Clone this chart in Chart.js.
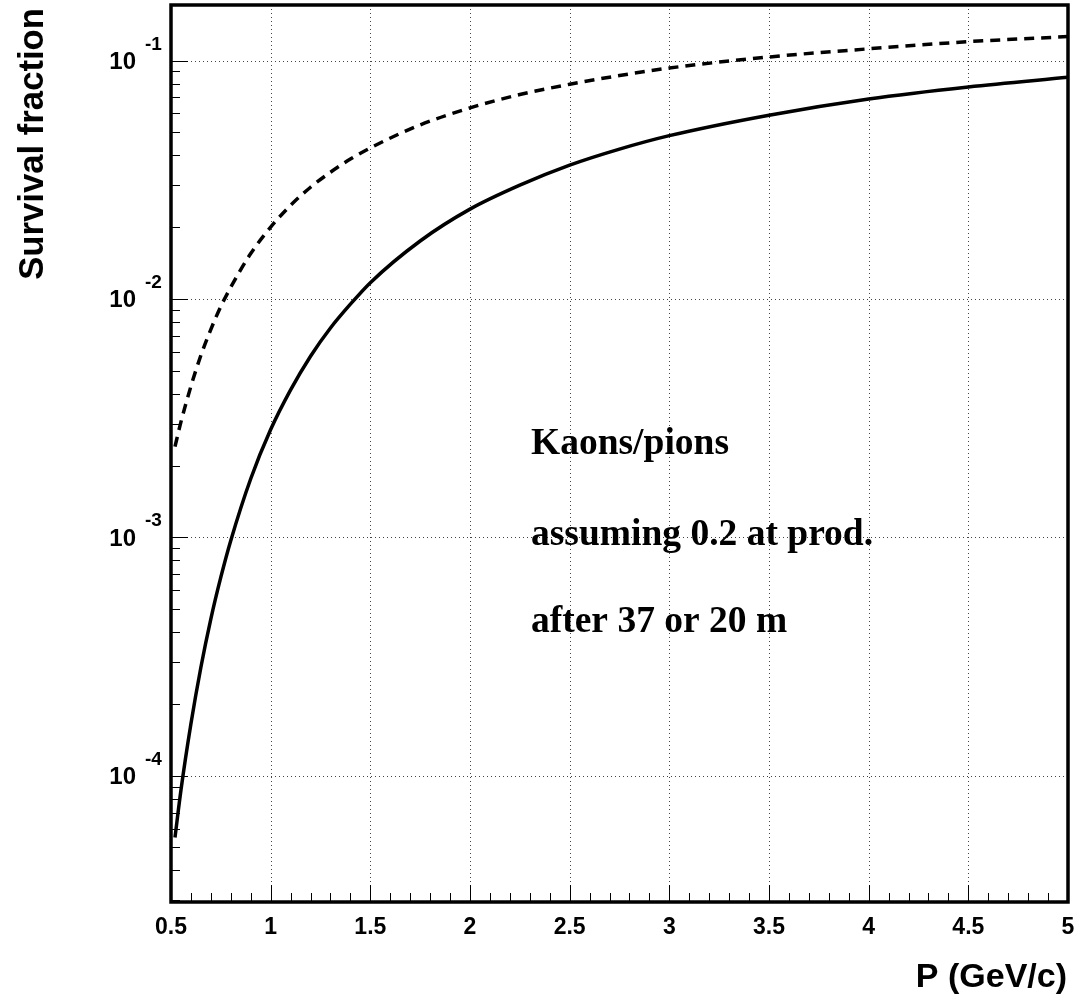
<!DOCTYPE html>
<html>
<head>
<meta charset="utf-8">
<script src="https://cdn.jsdelivr.net/npm/chart.js@4/dist/chart.umd.min.js"></script>
<style>
  body { margin: 0; background: #fff; }
  canvas { display: block; }
</style>
</head>
<body>
<canvas id="myChart" width="1079" height="1002"></canvas>
<script>
// momentum points (GeV/c)
var momentum = [0.52, 0.55, 0.6, 0.65, 0.7, 0.75, 0.8, 0.9, 1.0, 1.1, 1.2, 1.3, 1.4, 1.5,
  1.75, 2.0, 2.25, 2.5, 2.75, 3.0, 3.5, 4.0, 4.5, 5.0];

// after 37 m (solid)
var survival37 = [5.5e-5, 8.7e-5, 1.65e-4, 2.85e-4, 4.55e-4, 6.8e-4, 9.7e-4, 1.76e-3, 2.83e-3,
  4.15e-3, 5.75e-3, 7.55e-3, 9.5e-3, 1.17e-2, 1.75e-2, 2.38e-2, 3.0e-2, 3.64e-2, 4.25e-2,
  4.84e-2, 5.9e-2, 6.9e-2, 7.75e-2, 8.5e-2];

// after 20 m (dashed)
var survival20 = [2.4e-3, 3.05e-3, 4.3e-3, 5.8e-3, 7.45e-3, 9.3e-3, 1.12e-2, 1.55e-2, 2.0e-2,
  2.47e-2, 2.94e-2, 3.4e-2, 3.86e-2, 4.3e-2, 5.37e-2, 6.33e-2, 7.2e-2, 7.95e-2, 8.65e-2,
  9.3e-2, 1.035e-1, 1.12e-1, 1.2e-1, 1.26e-1];

var xTicks = [0.5, 1, 1.5, 2, 2.5, 3, 3.5, 4, 4.5, 5];
var xTickLabels = ["0.5", "1", "1.5", "2", "2.5", "3", "3.5", "4", "4.5", "5"];
var yDecades = [-4, -3, -2, -1];

var notes = ["Kaons/pions", "assuming 0.2 at prod.", "after 37 or 20 m"];

function toPoints(xs, ys) {
  var pts = [];
  for (var i = 0; i < xs.length; i++) {
    pts.push({ x: xs[i], y: ys[i] });
  }
  return pts;
}

var rootFrame = {
  id: "rootFrame",
  beforeDatasetsDraw: function(chart) {
    var ctx = chart.ctx;
    var xs = chart.scales.x, ys = chart.scales.y;
    var a = chart.chartArea;
    ctx.save();
    // dotted grid
    ctx.strokeStyle = "#444";
    ctx.lineWidth = 1;
    ctx.setLineDash([1, 3]);
    for (var i = 1; i < xTicks.length - 1; i++) {
      var px = Math.round(xs.getPixelForValue(xTicks[i])) + 0.5;
      ctx.beginPath(); ctx.moveTo(px, a.top); ctx.lineTo(px, a.bottom); ctx.stroke();
    }
    for (var j = 0; j < yDecades.length; j++) {
      var py = Math.round(ys.getPixelForValue(Math.pow(10, yDecades[j]))) + 0.5;
      ctx.beginPath(); ctx.moveTo(a.left, py); ctx.lineTo(a.right, py); ctx.stroke();
    }
    ctx.restore();
  },
  afterDraw: function(chart) {
    var ctx = chart.ctx;
    var xs = chart.scales.x, ys = chart.scales.y;
    var a = chart.chartArea;
    ctx.save();
    ctx.strokeStyle = "#000";
    ctx.lineWidth = 1;
    ctx.setLineDash([]);

    // x ticks every 0.1, major every 0.5
    for (var k = 5; k <= 50; k++) {
      var v = k / 10;
      var px = Math.round(xs.getPixelForValue(v)) + 0.5;
      var len = (k % 5 === 0) ? 17 : 9;
      ctx.beginPath(); ctx.moveTo(px, a.bottom); ctx.lineTo(px, a.bottom - len); ctx.stroke();
    }
    // y ticks, log
    for (var d = -5; d <= -1; d++) {
      for (var m = 1; m <= 9; m++) {
        var val = m * Math.pow(10, d);
        if (val < ys.min || val > ys.max) continue;
        var py = Math.round(ys.getPixelForValue(val)) + 0.5;
        var l = (m === 1) ? 17 : 9;
        ctx.beginPath(); ctx.moveTo(a.left, py); ctx.lineTo(a.left + l, py); ctx.stroke();
      }
    }

    // frame
    ctx.lineWidth = 3.5;
    ctx.strokeRect(a.left, a.top, a.right - a.left, a.bottom - a.top);

    // x tick labels
    ctx.fillStyle = "#000";
    ctx.font = "bold 23px 'Liberation Sans', Arial, sans-serif";
    ctx.textAlign = "center";
    ctx.textBaseline = "alphabetic";
    for (var i = 0; i < xTicks.length; i++) {
      ctx.fillText(xTickLabels[i], xs.getPixelForValue(xTicks[i]), 934);
    }

    // y tick labels 10^n
    for (var j = 0; j < yDecades.length; j++) {
      var y = ys.getPixelForValue(Math.pow(10, yDecades[j]));
      ctx.font = "bold 24px 'Liberation Sans', Arial, sans-serif";
      ctx.textAlign = "right";
      ctx.fillText("10", 136, y + 8.5);
      ctx.font = "bold 19px 'Liberation Sans', Arial, sans-serif";
      ctx.textAlign = "left";
      ctx.fillText("-" + (-yDecades[j]), 145, y - 11);
    }

    // axis titles
    ctx.font = "bold 34px 'Liberation Sans', Arial, sans-serif";
    ctx.textAlign = "right";
    ctx.fillText("P (GeV/c)", 1067, 987);

    ctx.save();
    ctx.font = "bold 34.7px 'Liberation Sans', Arial, sans-serif";
    ctx.translate(43, 8);
    ctx.rotate(-Math.PI / 2);
    ctx.textAlign = "right";
    ctx.fillText("Survival fraction", 0, 0);
    ctx.restore();

    // notes
    ctx.font = "bold 37.5px 'Liberation Serif', 'Times New Roman', serif";
    ctx.textAlign = "left";
    ctx.fillText(notes[0], 531, 454);
    ctx.fillText(notes[1], 531, 545);
    ctx.fillText(notes[2], 531, 632);

    ctx.restore();
  }
};

var ctx = document.getElementById("myChart");

var chart = new Chart(ctx, {
  type: "line",
  data: {
    datasets: [
      {
        label: "37 m",
        data: toPoints(momentum, survival37),
        borderColor: "#000",
        borderWidth: 3.5,
        pointRadius: 0,
        fill: false,
        cubicInterpolationMode: "monotone"
      },
      {
        label: "20 m",
        data: toPoints(momentum, survival20),
        borderColor: "#000",
        borderWidth: 3.5,
        borderDash: [10, 7],
        pointRadius: 0,
        fill: false,
        cubicInterpolationMode: "monotone"
      }
    ]
  },
  options: {
    responsive: false,
    animation: false,
    layout: { padding: { left: 171, right: 11, top: 5, bottom: 100 } },
    plugins: {
      legend: { display: false },
      tooltip: { enabled: false }
    },
    scales: {
      x: { type: "linear", min: 0.5, max: 5, display: false },
      y: { type: "logarithmic", min: 2.95e-5, max: 0.171, display: false }
    }
  },
  plugins: [rootFrame]
});
</script>
</body>
</html>
